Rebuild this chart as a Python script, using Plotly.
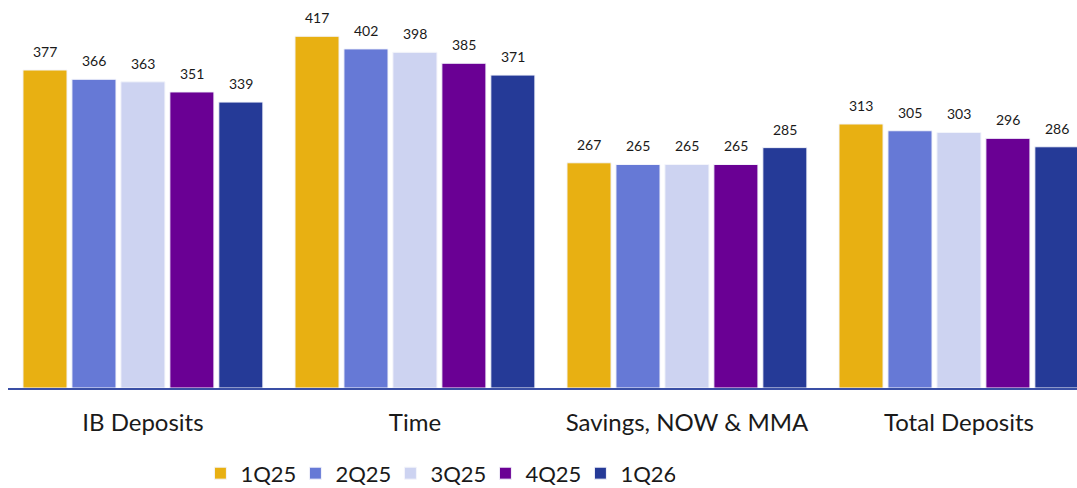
import plotly.graph_objects as go

categories = ["IB Deposits", "Time", "Savings, NOW & MMA", "Total Deposits"]
quarters = ["1Q25", "2Q25", "3Q25", "4Q25", "1Q26"]
values_1q25 = [377, 417, 267, 313]
values_2q25 = [366, 402, 265, 305]
values_3q25 = [363, 398, 265, 303]
values_4q25 = [351, 385, 265, 296]
values_1q26 = [339, 371, 285, 286]
series = [values_1q25, values_2q25, values_3q25, values_4q25, values_1q26]
colors = ["#E8B012", "#6679D6", "#CDD3F1", "#6A0094", "#253A97"]

FONT = "Lato"
bargap = 0.1
n = len(series)
xpos = list(range(len(categories)))

fig = go.Figure()
for name, vals, col in zip(quarters, series, colors):
    fig.add_trace(go.Bar(
        x=xpos, y=vals, name=name,
        marker=dict(color=col, line=dict(color="#F4F5FB", width=1)),
    ))

# value labels above each bar
slot = (1 - bargap) / n
for i, vals in enumerate(series):
    for c, v in zip(xpos, vals):
        fig.add_annotation(
            x=c + (i - (n - 1) / 2) * slot, y=v, text=str(v),
            showarrow=False, yanchor="bottom", yshift=8,
            font=dict(family=FONT, size=14, color="#1a1a1a"),
        )

fig.update_layout(
    width=1077, height=488,
    margin=dict(l=8, r=0, t=0, b=100),
    paper_bgcolor="white", plot_bgcolor="white",
    barmode="group", bargap=bargap, bargroupgap=0.1,
    font=dict(family=FONT, color="#1a1a1a"),
    showlegend=True,
    legend=dict(
        orientation="h", x=0.18, xanchor="left",
        yref="container", y=0.03, yanchor="middle",
        font=dict(family=FONT, size=22, color="#1a1a1a"),
        itemwidth=30, tracegroupgap=0,
        entrywidth=50, entrywidthmode="pixels",
    ),
    xaxis=dict(
        range=[-0.496, 3.434], tickvals=xpos, ticktext=categories,
        showgrid=False, zeroline=False, ticks="",
        showline=True, linecolor="#3A4FA5", linewidth=2,
        tickfont=dict(family=FONT, size=24, color="#1a1a1a"),
        ticklabelstandoff=12,
    ),
    yaxis=dict(range=[0, 460], visible=False, showgrid=False, zeroline=False),
)

fig.write_html("out.html")
